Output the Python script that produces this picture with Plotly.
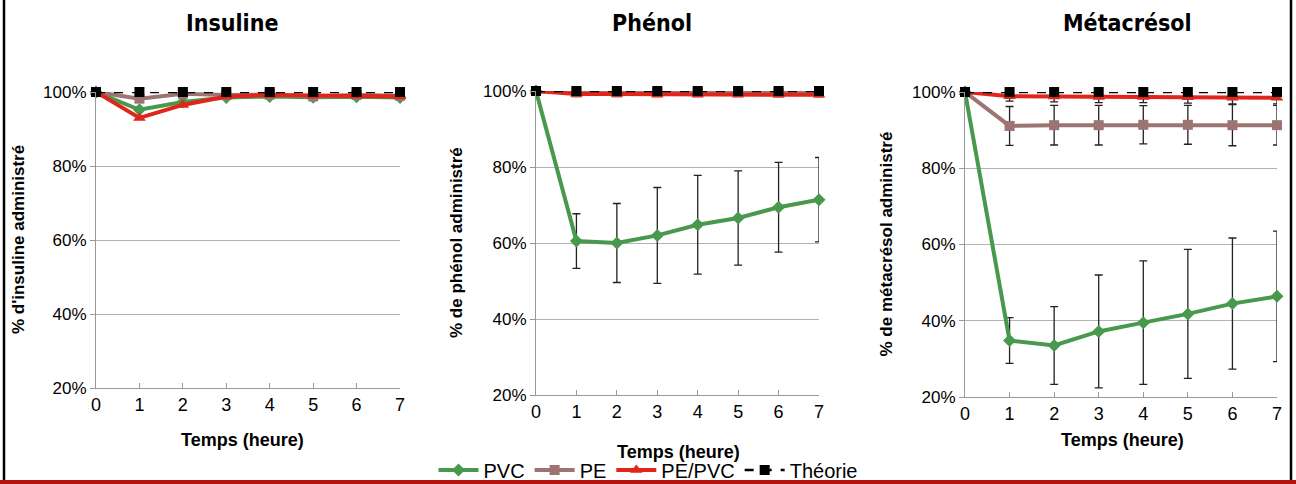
import plotly.graph_objects as go

W, H = 1296, 484
hours = [0, 1, 2, 3, 4, 5, 6, 7]
y_ticks = [20, 40, 60, 80, 100]
y_tick_labels = ["20%", "40%", "60%", "80%", "100%"]
series_names = ["PVC", "PE", "PE/PVC", "Théorie"]

panel_titles = ["Insuline", "Phénol", "Métacrésol"]
y_titles = ["% d'insuline administré", "% de phénol administré", "% de métacrésol administré"]
x_title = "Temps (heure)"

# Insuline
ins_pvc = [100, 95.2, 97.3, 98.5, 98.8, 98.6, 98.7, 98.5]
ins_pe = [100, 98.2, 99.5, 99.2, 99.3, 98.8, 99.2, 99.0]
ins_pepvc = [100, 93.0, 96.5, 98.8, 99.2, 99.0, 99.0, 98.8]
ins_theo = [100, 100, 100, 100, 100, 100, 100, 100]

# Phénol
phe_pvc = [100, 60.5, 60.0, 62.0, 64.8, 66.6, 69.4, 71.4]
phe_pvc_err = [0, 7.2, 10.4, 12.6, 13.0, 12.4, 11.8, 11.1]
phe_pe = [100, 99.6, 99.6, 99.6, 99.6, 99.6, 99.6, 99.6]
phe_pepvc = [100, 99.2, 99.2, 99.1, 99.1, 99.1, 99.0, 99.0]
phe_theo = [100, 100, 100, 100, 100, 100, 100, 100]

# Métacrésol
met_pvc = [100, 34.8, 33.5, 37.2, 39.5, 41.8, 44.5, 46.4]
met_pvc_err = [0, 6.0, 10.2, 14.8, 16.2, 16.9, 17.2, 17.1]
met_pe = [100, 91.1, 91.3, 91.3, 91.4, 91.4, 91.3, 91.3]
met_pe_err = [0, 5.1, 5.2, 5.2, 5.0, 5.1, 5.4, 5.2]
met_pepvc = [100, 98.9, 98.8, 98.7, 98.7, 98.6, 98.5, 98.5]
met_pepvc_err = [0, 1.3, 1.4, 1.5, 1.5, 1.5, 1.6, 1.6]
met_theo = [100, 100, 100, 100, 100, 100, 100, 100]

panels = [
    dict(pvc=ins_pvc, pvc_err=None, pe=ins_pe, pe_err=None, pepvc=ins_pepvc, pepvc_err=None, theo=ins_theo),
    dict(pvc=phe_pvc, pvc_err=phe_pvc_err, pe=phe_pe, pe_err=None, pepvc=phe_pepvc, pepvc_err=None, theo=phe_theo),
    dict(pvc=met_pvc, pvc_err=met_pvc_err, pe=met_pe, pe_err=met_pe_err, pepvc=met_pepvc, pepvc_err=met_pepvc_err, theo=met_theo),
]

# pixel geometry of each plot area: (x0, x7, y100, y20)
geom = [(96, 400, 92, 388), (536, 819, 91, 395), (965, 1277, 92, 397)]
title_x = [232, 652, 1127]
ytitle_x = [18, 456, 886]
xtitle_pos = [(242, 440), (678, 452), (1122, 440)]

GREEN = "#48994e"
BROWN = "#9c7472"
RED = "#e1251a"
BLACK = "#000000"
ERRC = "#222222"
FONT = "Liberation Sans, Arial"

fig = go.Figure()

def err(v):
    if v is None:
        return None
    return dict(type="data", array=v, visible=True, color=ERRC, thickness=1.3, width=4)

for i, p in enumerate(panels):
    xa = "x" if i == 0 else f"x{i+1}"
    ya = "y" if i == 0 else f"y{i+1}"
    show = i == 0
    specs = [
        ("PVC", p["pvc"], p["pvc_err"], GREEN, "diamond", 10, "solid", 4),
        ("PE", p["pe"], p["pe_err"], BROWN, "square", 10, "solid", 4),
        ("PE/PVC", p["pepvc"], p["pepvc_err"], RED, "triangle-up", 11, "solid", 4),
        ("Théorie", p["theo"], None, BLACK, "square", 10, "dash", 2.5),
    ]
    for name, yv, e, c, sym, ms, dash, lw in specs:
        fig.add_trace(go.Scatter(
            x=hours, y=yv, name=name, legendgroup=name, showlegend=show,
            mode="lines+markers", xaxis=xa, yaxis=ya, cliponaxis=False,
            line=dict(color=c, width=lw, dash=dash),
            marker=dict(color=c, symbol=sym, size=ms),
            error_y=err(e),
        ))

layout = dict(
    width=W, height=H, margin=dict(l=0, r=0, t=0, b=0, autoexpand=False),
    paper_bgcolor="white", plot_bgcolor="white",
    font=dict(family=FONT, color="#000"),
    showlegend=True,
    legend=dict(orientation="h", x=0.5, xanchor="center", y=1 - 470 / H, yanchor="middle",
                font=dict(size=20, family=FONT), itemwidth=40,
                bgcolor="rgba(0,0,0,0)", tracegroupgap=0),
)

annotations = []
shapes = []
for i, (x0, x7, y100, y20) in enumerate(geom):
    sfx = "" if i == 0 else str(i + 1)
    layout["xaxis" + sfx] = dict(
        domain=[x0 / W, x7 / W], range=[0, 7], anchor="y" + sfx, automargin=False,
        tickvals=hours, ticks="inside", ticklen=5, tickcolor="#999",
        showline=True, linecolor="#999", linewidth=1, showgrid=False, zeroline=False,
        tickfont=dict(size=18, family=FONT, color="#000"),
    )
    layout["yaxis" + sfx] = dict(
        domain=[1 - y20 / H, 1 - y100 / H], range=[20, 100], anchor="x" + sfx, automargin=False,
        tickvals=y_ticks, ticktext=y_tick_labels, ticks="outside", ticklen=5, tickcolor="#999",
        showline=True, linecolor="#999", linewidth=1, showgrid=True, gridcolor="#b3b3b3",
        zeroline=False, tickfont=dict(size=17, family=FONT, color="#000"),
    )
    annotations.append(dict(
        text=panel_titles[i], x=title_x[i] / W, y=1 - 23 / H, xref="paper", yref="paper",
        showarrow=False, xanchor="center", yanchor="middle",
        font=dict(size=23, family="DejaVu Sans Condensed", weight="bold", color="#000"),
    ))
    annotations.append(dict(
        text=y_titles[i], x=ytitle_x[i] / W, y=1 - ((y100 + y20) / 2) / H, xref="paper", yref="paper",
        showarrow=False, textangle=-90, xanchor="center", yanchor="middle",
        font=dict(size=17, family=FONT, weight="bold", color="#000"),
    ))
    annotations.append(dict(
        text=x_title, x=xtitle_pos[i][0] / W, y=1 - xtitle_pos[i][1] / H, xref="paper", yref="paper",
        showarrow=False, xanchor="center", yanchor="middle",
        font=dict(size=18, family=FONT, weight="bold", color="#000"),
    ))

shapes.append(dict(type="line", xref="paper", yref="paper", x0=4 / W, x1=4 / W, y0=0, y1=1,
                   line=dict(color="#000", width=2.5)))
shapes.append(dict(type="line", xref="paper", yref="paper", x0=1291 / W, x1=1291 / W, y0=0, y1=1,
                   line=dict(color="#000", width=2.5)))
shapes.append(dict(type="rect", xref="paper", yref="paper", x0=0, x1=1, y0=0, y1=4 / H,
                   fillcolor="#b5120f", line=dict(width=0)))

layout["annotations"] = annotations
layout["shapes"] = shapes
fig.update_layout(**layout)
fig.write_html("out.html", config={"displayModeBar": False},
               post_script="document.body.style.margin='0';document.body.style.overflow='hidden';")
